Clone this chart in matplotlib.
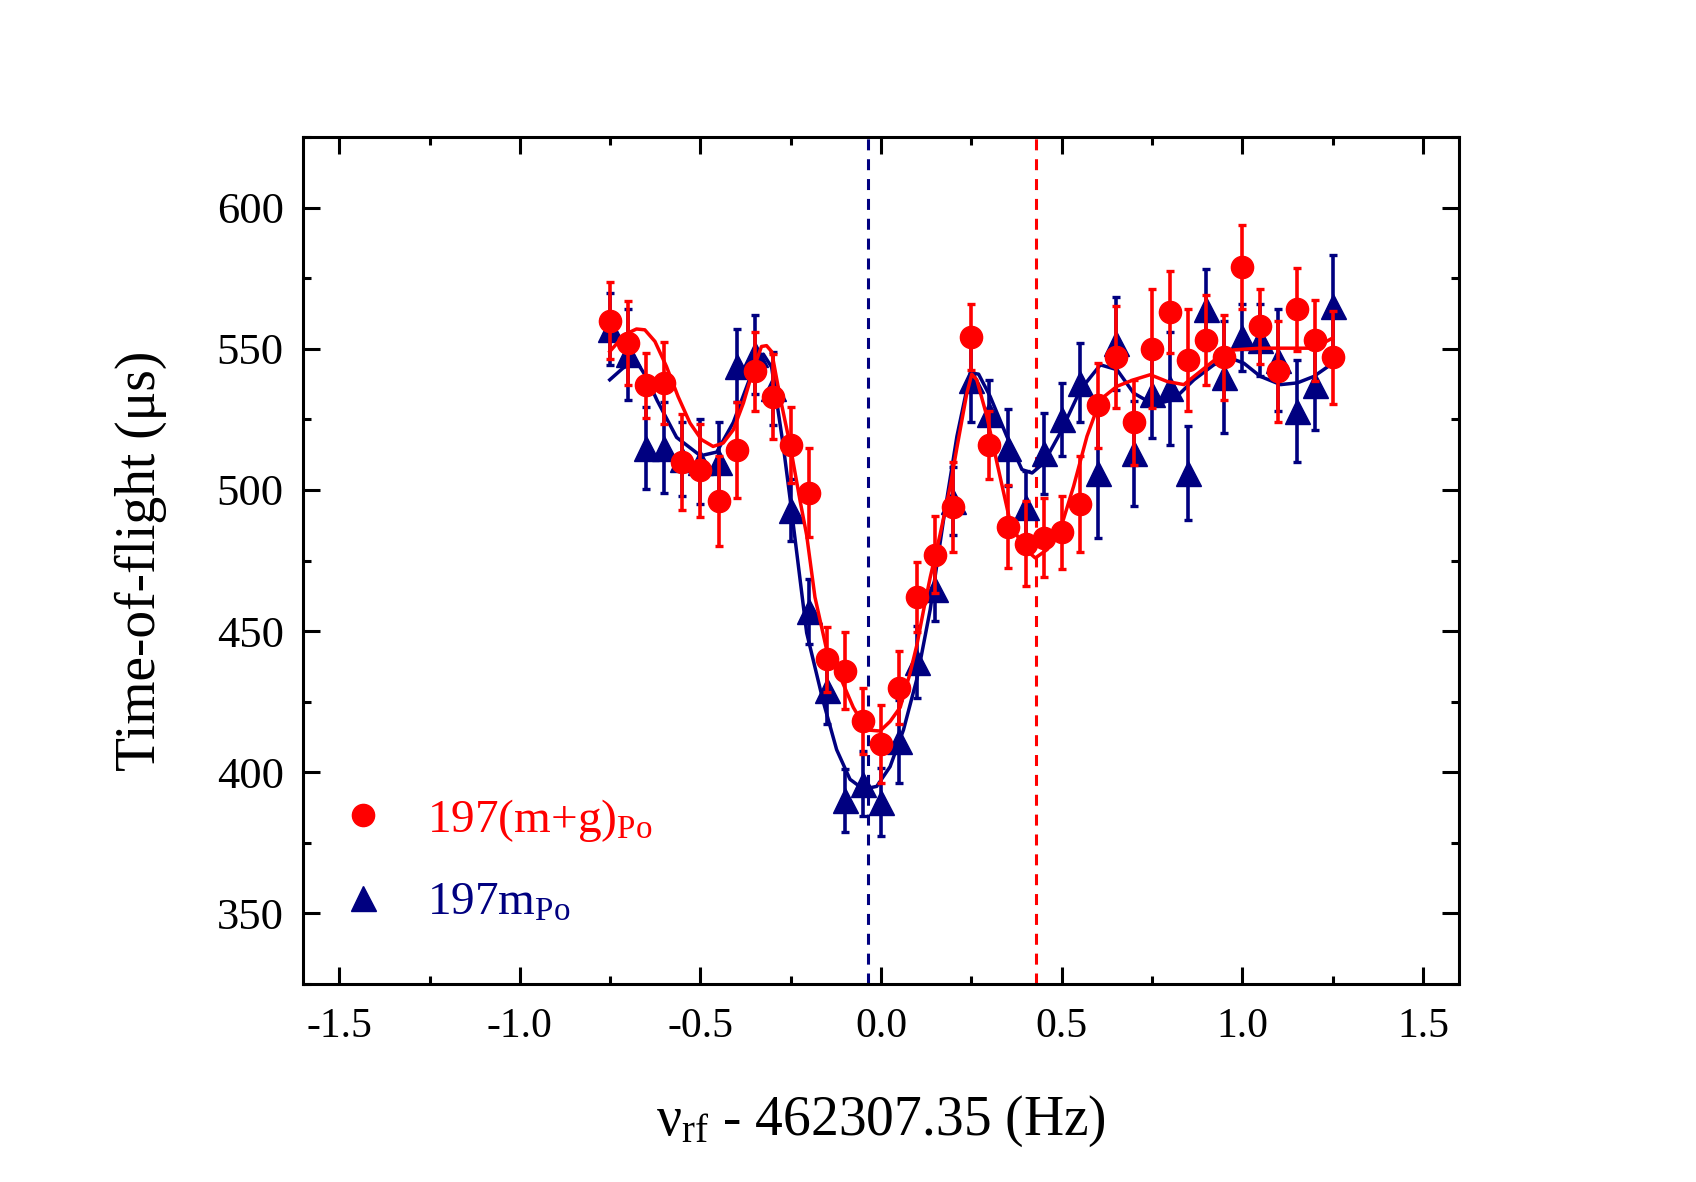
import matplotlib
matplotlib.use("Agg")
import matplotlib.pyplot as plt
from matplotlib.lines import Line2D
from matplotlib.ticker import MultipleLocator
import numpy as np

plt.rcParams['font.family'] = ['Liberation Serif', 'DejaVu Serif']
plt.rcParams['mathtext.fontset'] = 'custom'
plt.rcParams['mathtext.rm'] = 'Liberation Serif'
plt.rcParams['mathtext.it'] = 'Liberation Serif:italic'

# frequency offsets (Hz)
freq = [-0.75, -0.70, -0.65, -0.60, -0.55, -0.50, -0.45, -0.40, -0.35, -0.30,
        -0.25, -0.20, -0.15, -0.10, -0.05, 0.00, 0.05, 0.10, 0.15, 0.20,
        0.25, 0.30, 0.35, 0.40, 0.45, 0.50, 0.55, 0.60, 0.65, 0.70,
        0.75, 0.80, 0.85, 0.90, 0.95, 1.00, 1.05, 1.10, 1.15, 1.20, 1.25]

# 197(m+g)Po
tof_mg = [560, 552, 537, 538, 510, 507, 496, 514, 542, 533,
          516, 499, 440, 436, 418, 410, 430, 462, 477, 494,
          554, 516, 487, 481, 483, 485, 495, 530, 547, 524,
          550, 563, 546, 553, 547, 579, 558, 542, 564, 553, 547]
err_mg = [13.7, 15, 11.5, 14.5, 17, 16.5, 16, 17, 14, 15,
          13.4, 15.7, 11.4, 13.6, 11.7, 13.7, 13, 12.4, 13.6, 16,
          11.7, 12, 14.6, 15, 14, 13, 17, 15, 18, 15,
          21, 14.6, 18, 16, 15, 15, 13.3, 18, 14.7, 14.3, 16.5]

# 197mPo
tof_m = [557, 548, 515, 515, 511, 510, 510, 544, 548, 536,
         493, 457, 429, 390, 396, 389.5, 411, 439, 465, 496,
         539, 527, 515, 494, 513, 525, 538, 506, 552, 513,
         534, 536, 506, 564, 540, 554, 553, 546, 528, 537, 565]
err_m = [12.6, 16, 14.5, 16, 13, 15, 14, 13, 14, 13,
         11, 11.6, 12, 11, 11.5, 12, 14.7, 12.8, 11.3, 12,
         15, 12, 13.7, 12.8, 14.4, 13, 14, 23, 16.5, 18.6,
         15.6, 20, 16.8, 14.4, 20, 12, 12.7, 18, 18, 15.7, 18.3]

# fitted curves
fit_mg_x = [-0.751, -0.71, -0.677, -0.654, -0.626, -0.594, -0.562, -0.529, -0.497,
            -0.465, -0.437, -0.409, -0.381, -0.354, -0.331, -0.317, -0.303, -0.28,
            -0.252, -0.224, -0.206, -0.183, -0.15, -0.114, -0.077, -0.04, -0.003,
            0.025, 0.053, 0.08, 0.099, 0.117, 0.136, 0.163, 0.191, 0.21, 0.237,
            0.251, 0.265, 0.293, 0.321, 0.358, 0.395, 0.427, 0.46, 0.496, 0.533,
            0.57, 0.607, 0.653, 0.699, 0.745, 0.792, 0.838, 0.884, 0.93, 0.976,
            1.05, 1.143, 1.198, 1.25]
fit_mg_y = [549, 555, 557, 556.7, 552.6, 543.7, 533.1, 523.7, 517.8,
            515.4, 516.6, 521.3, 530.8, 542.6, 550.8, 551.1, 549, 533.1,
            516, 496, 484, 462, 443, 434, 423, 415, 414.6,
            418, 423, 435, 445, 457, 469, 484, 501, 515, 534,
            541, 539, 526, 509.5, 488.3, 479.5, 475.9, 478.9, 485.9, 501.3,
            519, 532, 536.7, 539, 540.8, 538.4, 537.3, 542, 546.7, 549.6,
            550.2, 550.2, 550.2, 553.8]

fit_m_x = [-0.751, -0.714, -0.677, -0.65, -0.62, -0.566, -0.50, -0.455, -0.409,
           -0.363, -0.326, -0.303, -0.271, -0.252, -0.206, -0.16, -0.123, -0.086,
           -0.049, -0.012, 0.025, 0.062, 0.099, 0.136, 0.173, 0.21, 0.247,
           0.27, 0.302, 0.348, 0.39, 0.418, 0.45, 0.496, 0.552, 0.607, 0.653,
           0.699, 0.755, 0.81, 0.866, 0.921, 0.967, 1.004, 1.05, 1.106, 1.152,
           1.198, 1.244]
fit_m_y = [539, 543.2, 545.5, 540, 531.7, 518.6, 512.1, 513.4, 523.9,
           539.6, 548.1, 543.5, 515.9, 497, 449.4, 425, 408, 397.5,
           394, 395, 402, 415, 433, 457.6, 489.5, 519, 541.5,
           541, 533.1, 519, 507.2, 506, 509.5, 520.2, 535.5, 544.3, 542.6,
           534.3, 530.2, 532, 539, 544.3, 546.7, 544.9, 540.2, 537.3, 537.9,
           540.2, 544.3]

centre_m = -0.035
centre_mg = 0.43

red = '#ff0000'
navy = '#000080'

fig = plt.figure(figsize=(16.96, 11.82), dpi=100)
ax = fig.add_axes([0.1787, 0.1675, 0.8603 - 0.1787, 0.8841 - 0.1675])

ax.axvline(centre_m, color=navy, lw=2.2, dashes=(3.6, 2.9), zorder=1)
ax.axvline(centre_mg, color=red, lw=2.2, dashes=(3.6, 2.9), zorder=1)

ax.errorbar(freq, tof_m, yerr=err_m, fmt='^', color=navy, ms=18,
            elinewidth=2.6, capsize=2.9, capthick=2.4, zorder=2)
ax.plot(fit_m_x, fit_m_y, color=navy, lw=2.5, zorder=3)
ax.errorbar(freq, tof_mg, yerr=err_mg, fmt='o', color=red, ms=16,
            elinewidth=2.6, capsize=2.9, capthick=2.4, zorder=4)
ax.plot(fit_mg_x, fit_mg_y, color=red, lw=2.5, zorder=5)

ax.set_xlim(-1.6, 1.6)
ax.set_ylim(325, 625)
ax.xaxis.set_major_locator(MultipleLocator(0.5))
ax.xaxis.set_minor_locator(MultipleLocator(0.25))
ax.yaxis.set_major_locator(MultipleLocator(50))
ax.yaxis.set_minor_locator(MultipleLocator(25))
ax.xaxis.set_major_formatter(matplotlib.ticker.FormatStrFormatter('%.1f'))
ax.tick_params(which='both', direction='in', top=True, right=True, width=2.2)
ax.tick_params(which='major', length=12)
ax.tick_params(which='minor', length=6)
ax.tick_params(axis='x', labelsize=30, pad=17)
ax.tick_params(axis='y', labelsize=32, pad=14)
for s in ax.spines.values():
    s.set_linewidth(2.2)

ax.set_xlabel('ν$_{\\rm rf}$ - 462307.35 (Hz)', fontsize=40, labelpad=34)
ax.set_ylabel('Time-of-flight (μs)', fontsize=40, labelpad=36)

handles = [Line2D([], [], ls='none', marker='o', color=red, ms=16),
           Line2D([], [], ls='none', marker='^', color=navy, ms=18)]
ax.legend(handles, ['197(m+g)$_{\\rm Po}$', '197m$_{\\rm Po}$'],
          loc='lower left', bbox_to_anchor=(0.031, 0.07), frameon=False,
          fontsize=34, handlelength=1.0, handletextpad=0.86, labelspacing=0.8,
          borderpad=0, borderaxespad=0, labelcolor=[red, navy])

fig.savefig('out.png', dpi=100)
